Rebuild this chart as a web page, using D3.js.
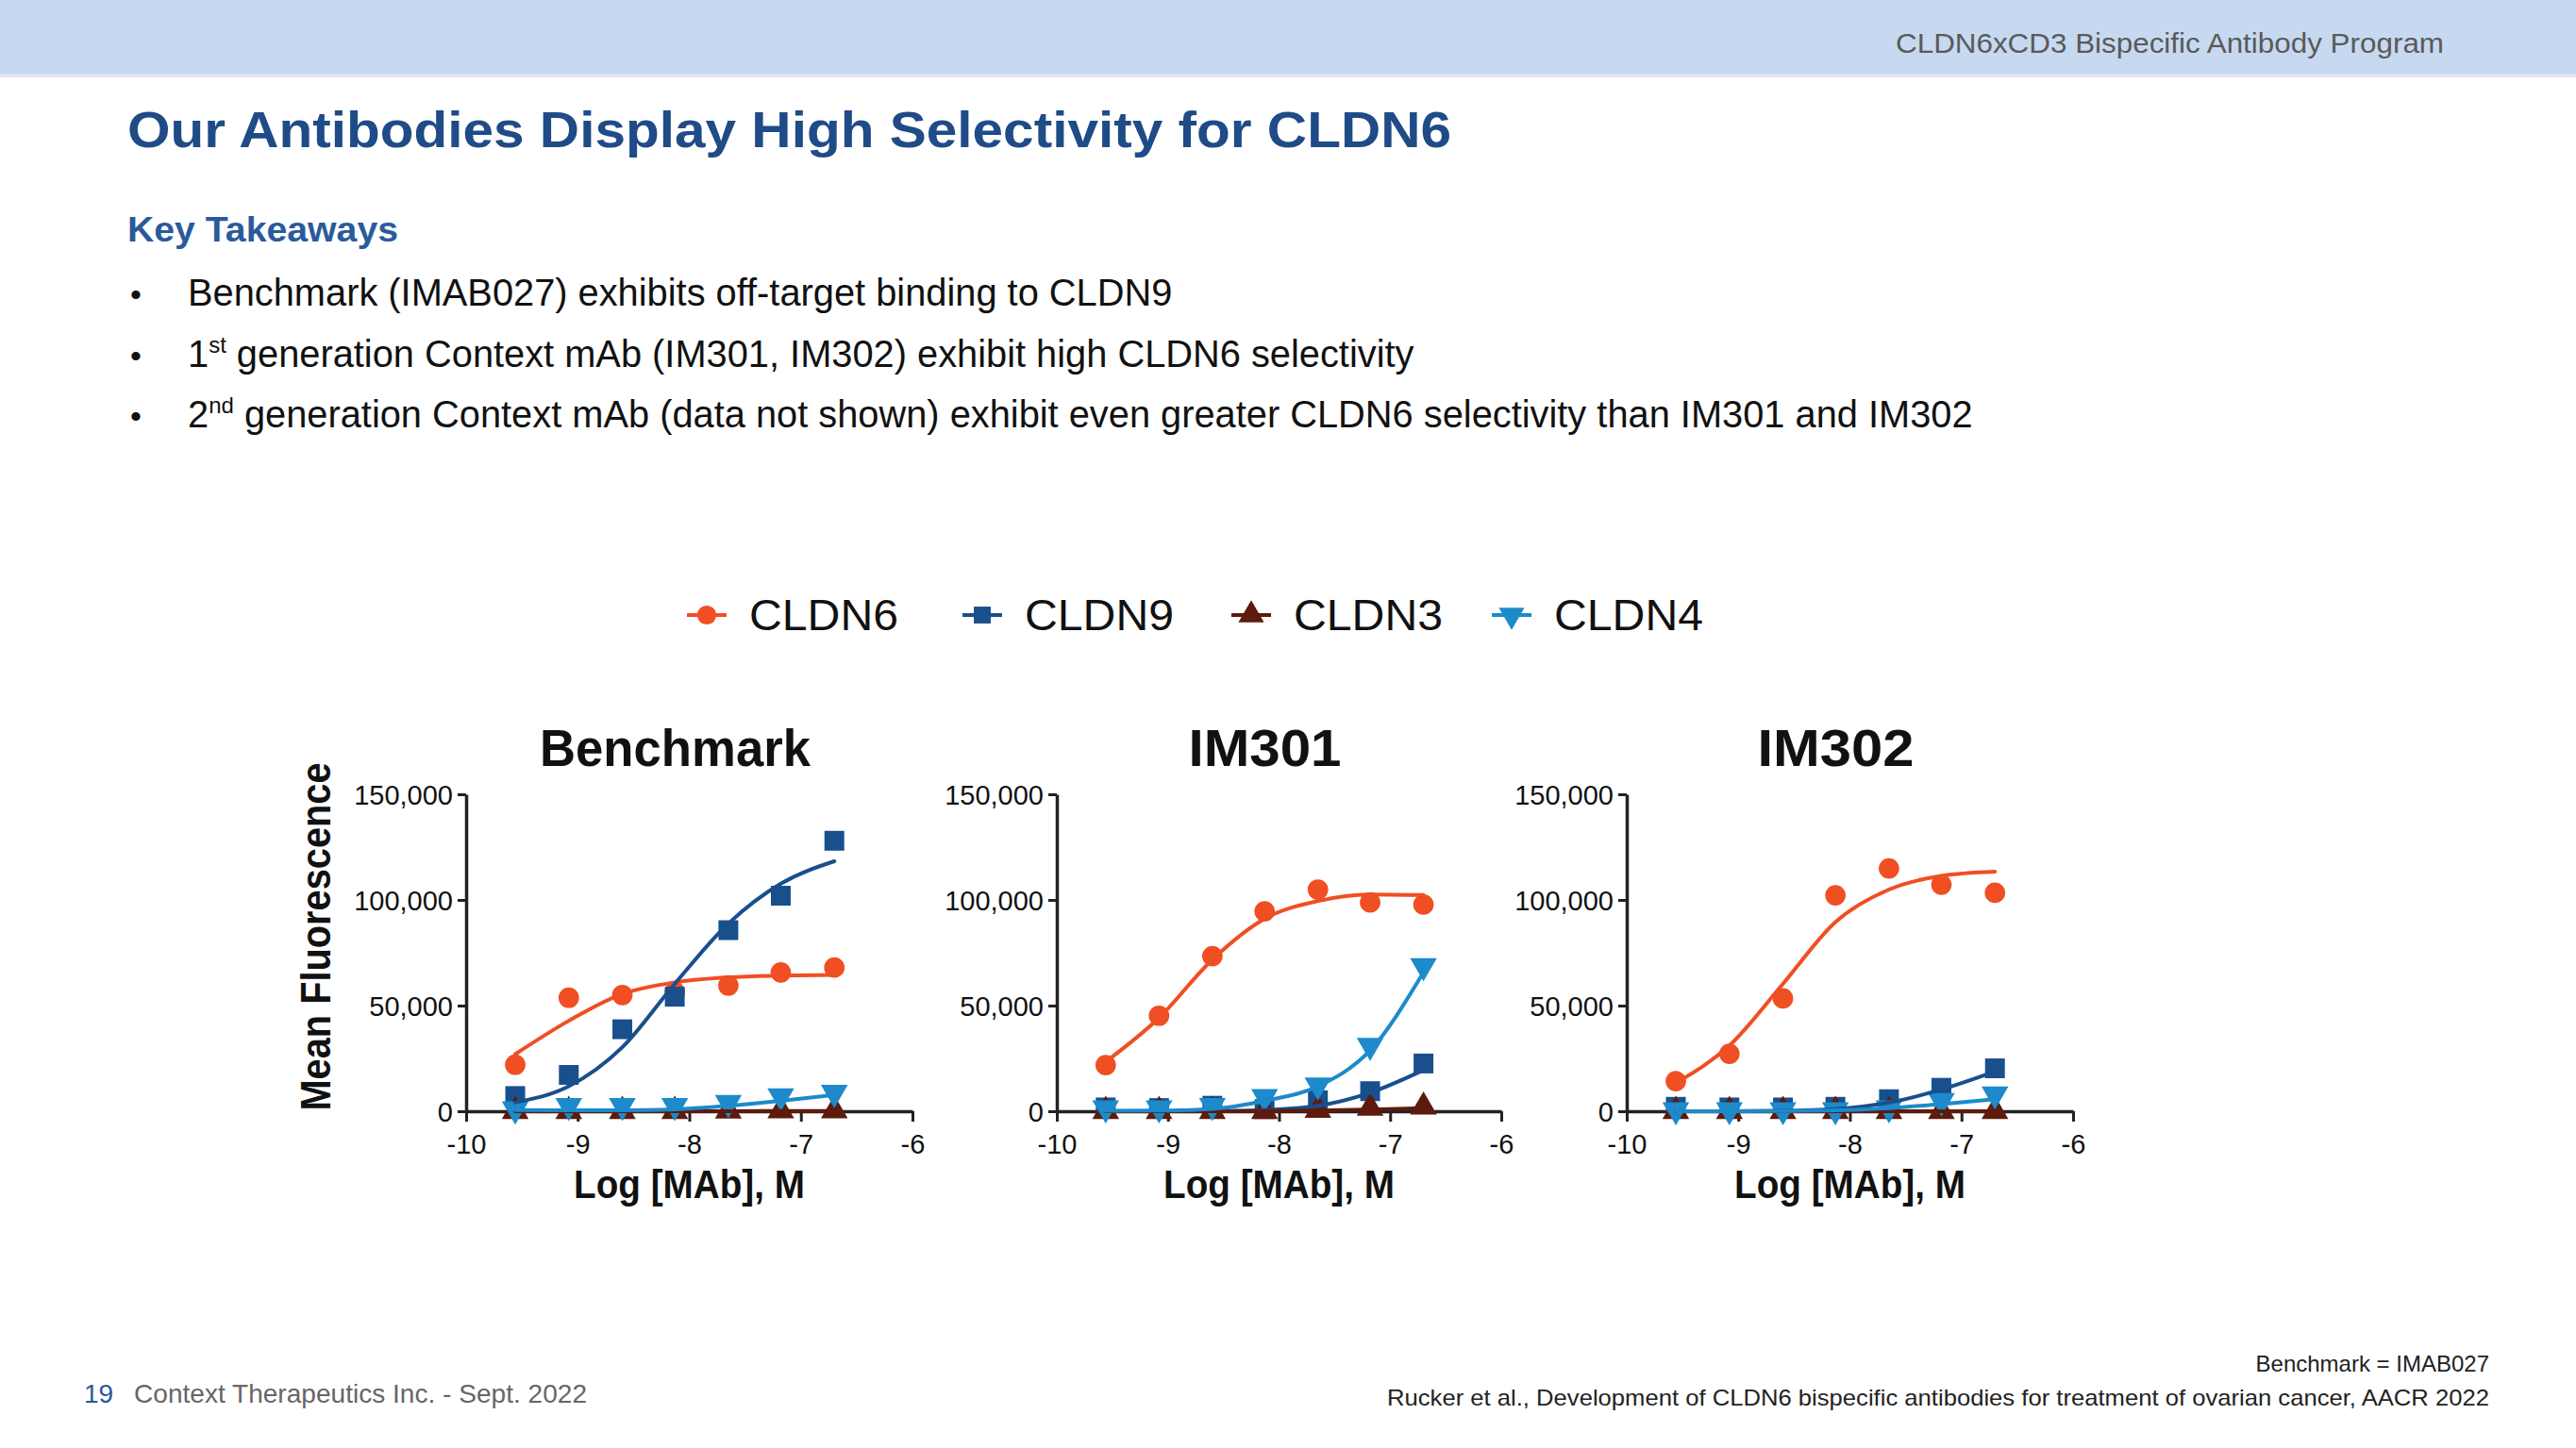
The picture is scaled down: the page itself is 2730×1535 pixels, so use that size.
<!DOCTYPE html>
<html><head><meta charset="utf-8">
<script src="https://cdn.jsdelivr.net/npm/d3@7"></script>
<style>
html,body{margin:0;padding:0;background:#fff;}
svg{display:block;font-family:"Liberation Sans",Arial,sans-serif;}
</style></head>
<body>
<svg id="s" width="2730" height="1535"></svg>
<script>
// ---------- DATA ----------
const logConc = [-9.56, -9.08, -8.60, -8.13, -7.65, -7.18, -6.70];
const seriesNames = ["CLDN6", "CLDN9", "CLDN3", "CLDN4"];
const panelTitles = ["Benchmark", "IM301", "IM302"];
const yTicks = [0, 50000, 100000, 150000];
const xTicks = [-10, -9, -8, -7, -6];

// Benchmark – measured points
const bmCLDN6 = [22000, 53700, 55000, 56500, 59500, 65700, 68000];
const bmCLDN9 = [7200, 17200, 38800, 54200, 85700, 102000, 128000];
const bmCLDN3 = [0, 0, 0, 0, 200, 300, 300];
const bmCLDN4 = [1000, 2600, 2600, 2600, 4000, 7200, 8800];
// Benchmark – fitted curves read at the same concentrations
const bmFitCLDN6 = [27000, 42800, 55500, 61000, 63400, 64200, 64500];
const bmFitCLDN9 = [4200, 11800, 30300, 60300, 88800, 107700, 118300];
const bmFitCLDN3 = [0, 0, 0, 0, 0, 100, 100];
const bmFitCLDN4 = [600, 400, 500, 900, 2600, 4900, 7700];

// IM301
const im301CLDN6 = [21800, 45200, 73400, 94600, 104900, 98800, 97800];
const im301CLDN9 = [1800, 1500, 2600, 1000, 5200, 9500, 22600];
const im301CLDN3 = [0, 0, 0, 0, 500, 1500, 2100];
const im301CLDN4 = [1500, 1500, 2600, 6800, 12300, 31100, 68800];
const im301FitCLDN6 = [23400, 44200, 71800, 91100, 99500, 102600, 102300];
const im301FitCLDN9 = [0, 0, 100, 600, 2600, 8800, 19500];
const im301FitCLDN3 = [0, 0, 0, 100, 300, 800, 1500];
const im301FitCLDN4 = [200, 300, 1100, 4900, 11800, 28800, 65700];

// IM302
const im302CLDN6 = [14200, 27200, 53400, 102200, 114900, 107200, 103400];
const im302CLDN9 = [2100, 1800, 1800, 2100, 5700, 11100, 20300];
const im302CLDN3 = [0, 0, 0, 0, 0, 0, 0];
const im302CLDN4 = [600, 600, 600, 600, 1500, 4900, 8000];
const im302FitCLDN6 = [13400, 31100, 60300, 89500, 104900, 111400, 113400];
const im302FitCLDN9 = [0, 0, 200, 1000, 4100, 10300, 18800];
const im302FitCLDN3 = [0, 0, 0, 0, 0, 0, 0];
const im302FitCLDN4 = [0, 0, 100, 400, 1500, 3400, 5700];

// ---------- STYLE ----------
const colors = {CLDN6: "#F04E23", CLDN9: "#194F8C", CLDN3: "#5E1A0C", CLDN4: "#1C8ACB"};
const symbols = {CLDN6: "circle", CLDN9: "square", CLDN3: "up", CLDN4: "down"};

const panels = [
  {title: panelTitles[0], x0: 494, x1: 967, pts: [bmCLDN6, bmCLDN9, bmCLDN3, bmCLDN4], fit: [bmFitCLDN6, bmFitCLDN9, bmFitCLDN3, bmFitCLDN4], titleLen: 287},
  {title: panelTitles[1], x0: 1120, x1: 1591, pts: [im301CLDN6, im301CLDN9, im301CLDN3, im301CLDN4], fit: [im301FitCLDN6, im301FitCLDN9, im301FitCLDN3, im301FitCLDN4], titleLen: 162},
  {title: panelTitles[2], x0: 1724, x1: 2197, pts: [im302CLDN6, im302CLDN9, im302CLDN3, im302CLDN4], fit: [im302FitCLDN6, im302FitCLDN9, im302FitCLDN3, im302FitCLDN4], titleLen: 166}
];

const svg = d3.select("#s");

// ---------- HEADER ----------
svg.append("rect").attr("x", 0).attr("y", 0).attr("width", 2730).attr("height", 78).attr("fill", "#C6D9F0");
svg.append("rect").attr("x", 0).attr("y", 78).attr("width", 2730).attr("height", 4).attr("fill", "#DDE6F1");
svg.append("text").attr("x", 2590).attr("y", 56).attr("text-anchor", "end")
  .attr("font-size", 30).attr("fill", "#5A5A5A").attr("textLength", 581).attr("lengthAdjust", "spacingAndGlyphs")
  .text("CLDN6xCD3 Bispecific Antibody Program");

svg.append("text").attr("x", 135).attr("y", 156).attr("font-size", 53).attr("font-weight", "bold")
  .attr("fill", "#1F4B87").attr("textLength", 1403).attr("lengthAdjust", "spacingAndGlyphs")
  .text("Our Antibodies Display High Selectivity for CLDN6");

svg.append("text").attr("x", 135).attr("y", 256).attr("font-size", 37).attr("font-weight", "bold")
  .attr("fill", "#2A5A9B").attr("textLength", 287).attr("lengthAdjust", "spacingAndGlyphs")
  .text("Key Takeaways");

const bullets = [
  [["Benchmark (IMAB027) exhibits off-target binding to CLDN9", false]],
  [["1", false], ["st", true], [" generation Context mAb (IM301, IM302) exhibit high CLDN6 selectivity", false]],
  [["2", false], ["nd", true], [" generation Context mAb (data not shown) exhibit even greater CLDN6 selectivity than IM301 and IM302", false]]
];
const bulletY = [324, 389, 453];
bullets.forEach((parts, i) => {
  svg.append("text").attr("x", 138).attr("y", bulletY[i]).attr("font-size", 34).attr("fill", "#111").text("•");
  const t = svg.append("text").attr("x", 199).attr("y", bulletY[i]).attr("font-size", 39.8).attr("fill", "#111");
  parts.forEach(([s, sup]) => {
    const ts = t.append("tspan").text(s);
    if (sup) ts.attr("font-size", 24).attr("dy", -15);
    else if (t.selectAll("tspan").size() > 1) ts.attr("dy", 15);
  });
});

// ---------- LEGEND ----------
function symbolPath(kind, size) {
  if (kind === "circle") return d3.symbol(d3.symbolCircle, size)();
  if (kind === "square") return d3.symbol(d3.symbolSquare, size)();
  return d3.symbol(d3.symbolTriangle, size)();
}
function drawSymbol(g, kind, x, y, size, color) {
  g.append("path").attr("d", symbolPath(kind, size))
    .attr("transform", `translate(${x},${y})` + (kind === "down" ? " rotate(180)" : ""))
    .attr("fill", color);
}
const legendX = [749, 1041, 1326, 1602];
const legendY = 652;
const lg = svg.append("g");
seriesNames.forEach((n, i) => {
  lg.append("line").attr("x1", legendX[i] - 21).attr("x2", legendX[i] + 21)
    .attr("y1", legendY).attr("y2", legendY).attr("stroke", colors[n]).attr("stroke-width", 4);
  drawSymbol(lg, symbols[n], legendX[i], legendY, 320, colors[n]);
  lg.append("text").attr("x", legendX[i] + 45).attr("y", legendY + 16).attr("font-size", 46)
    .attr("fill", "#111").attr("textLength", 158).attr("lengthAdjust", "spacingAndGlyphs").text(n);
});

// ---------- PANELS ----------
const yScale = d3.scaleLinear().domain([0, 150000]).range([1178, 842]);

panels.forEach((p, pi) => {
  const xScale = d3.scaleLinear().domain([-10, -6]).range([p.x0, p.x1]);
  const g = svg.append("g");

  // title
  g.append("text").attr("x", (p.x0 + p.x1) / 2 - 15).attr("y", 812).attr("text-anchor", "middle")
    .attr("font-size", 56).attr("font-weight", "bold").attr("fill", "#111")
    .attr("textLength", p.titleLen).attr("lengthAdjust", "spacingAndGlyphs").text(p.title);

  // axes
  const ya = d3.axisLeft(yScale).tickValues(yTicks).tickFormat(d3.format(",")).tickSize(9).tickSizeOuter(0).tickPadding(5);
  const yg = g.append("g").attr("transform", `translate(${p.x0},0)`).call(ya);
  const xa = d3.axisBottom(xScale).tickValues(xTicks).tickFormat(d => String(d)).tickSize(11).tickSizeOuter(0).tickPadding(6);
  const xg = g.append("g").attr("transform", `translate(0,${yScale(0)})`).call(xa);
  [yg, xg].forEach(a => {
    a.select(".domain").attr("stroke", "#222").attr("stroke-width", 3.5);
    a.selectAll(".tick line").attr("stroke", "#222").attr("stroke-width", 3);
    a.selectAll(".tick text").attr("font-size", 29).attr("fill", "#111")
      .attr("font-family", "'Liberation Sans',Arial,sans-serif");
  });
  yg.selectAll(".tick text").attr("dy", "0.36em");
  xg.selectAll(".tick text").attr("dy", "0.95em");

  // x axis title
  g.append("text").attr("x", (p.x0 + p.x1) / 2).attr("y", 1270).attr("text-anchor", "middle")
    .attr("font-size", 42).attr("font-weight", "bold").attr("fill", "#111")
    .attr("textLength", 245).attr("lengthAdjust", "spacingAndGlyphs").text("Log [MAb], M");

  // y axis title (first panel only)
  if (pi === 0) {
    g.append("text").attr("transform", `translate(350,993) rotate(-90)`).attr("text-anchor", "middle")
      .attr("font-size", 44).attr("font-weight", "bold").attr("fill", "#111")
      .attr("textLength", 369).attr("lengthAdjust", "spacingAndGlyphs").text("Mean Fluorescence");
  }

  // points
  seriesNames.forEach((n, si) => {
    p.pts[si].forEach((v, k) => {
      const sz = symbols[n] === "circle" ? 370 : (symbols[n] === "square" ? 440 : 350);
      drawSymbol(g, symbols[n], xScale(logConc[k]), yScale(v), sz, colors[n]);
    });
  });
  // fitted curves
  const line = d3.line().x((d, k) => xScale(logConc[k])).y(d => yScale(d)).curve(d3.curveMonotoneX);
  seriesNames.forEach((n, si) => {
    g.append("path").attr("d", line(p.fit[si])).attr("fill", "none")
      .attr("stroke", colors[n]).attr("stroke-width", 4).attr("stroke-linecap", "round");
  });
});

// ---------- FOOTER ----------
const f = svg.append("text").attr("x", 89).attr("y", 1487).attr("font-size", 28);
f.append("tspan").attr("fill", "#2A5A9B").text("19");
f.append("tspan").attr("x", 142).attr("fill", "#666").attr("textLength", 480).attr("lengthAdjust", "spacingAndGlyphs")
  .text("Context Therapeutics Inc. - Sept. 2022");

svg.append("text").attr("x", 2638).attr("y", 1454).attr("text-anchor", "end").attr("font-size", 24)
  .attr("fill", "#222").text("Benchmark = IMAB027");
svg.append("text").attr("x", 2638).attr("y", 1490).attr("text-anchor", "end").attr("font-size", 24)
  .attr("fill", "#222").attr("textLength", 1168).attr("lengthAdjust", "spacingAndGlyphs")
  .text("Rucker et al., Development of CLDN6 bispecific antibodies for treatment of ovarian cancer, AACR 2022");
</script>
</body></html>
